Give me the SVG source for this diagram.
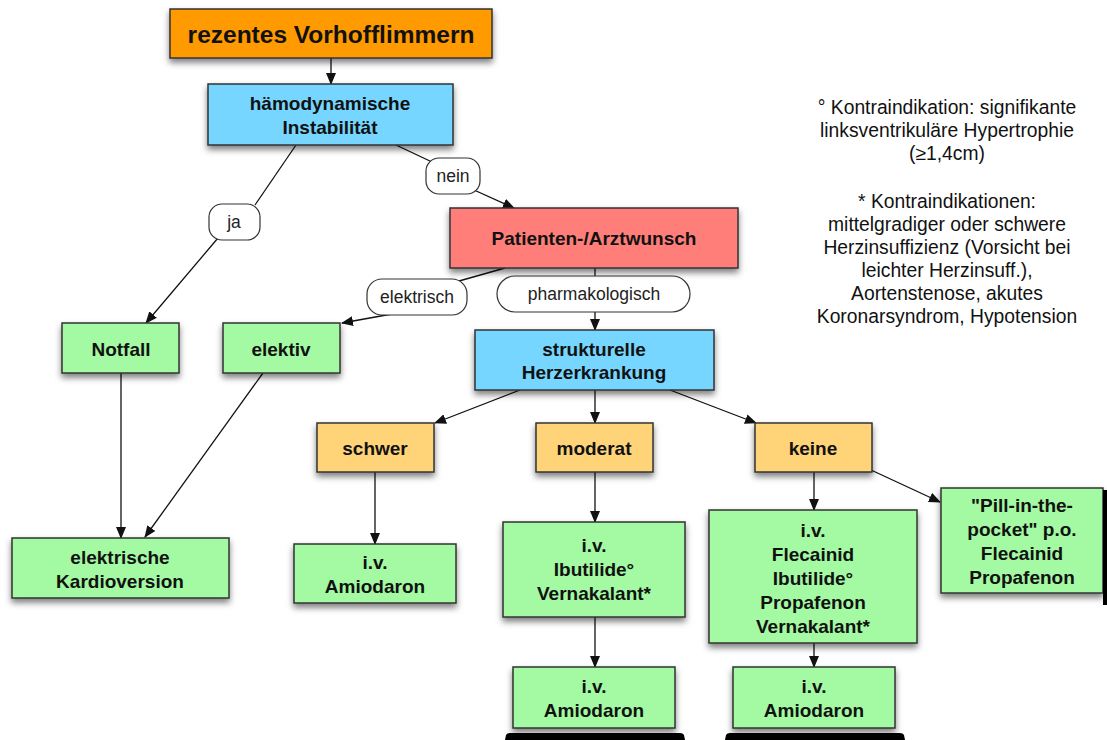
<svg xmlns="http://www.w3.org/2000/svg" width="1107" height="740" viewBox="0 0 1107 740">
<style>
  .box{stroke:#333;stroke-width:1.5;filter:url(#sh)}
  .or{fill:#FF9A00}
  .bl{fill:#76D6FF}
  .rd{fill:#FF7E79}
  .gr{fill:#A3FAA3}
  .ye{fill:#FFD479}
  .t{font-family:"Liberation Sans",Arial,sans-serif;font-weight:bold;font-size:19px;fill:#111;text-anchor:middle}
  .title{font-size:24.5px}
  .lab{fill:#fff;stroke:#333;stroke-width:1.2}
  .lt{font-family:"Liberation Sans",Arial,sans-serif;font-size:17.5px;fill:#222;text-anchor:middle}
  .note{font-family:"Liberation Sans",Arial,sans-serif;font-size:19.3px;fill:#111;text-anchor:middle}
  .c{stroke:#111;stroke-width:1.3;fill:none}
  .ca{stroke:#111;stroke-width:1.3;fill:none;marker-end:url(#ah)}
</style>
<defs>
  <filter id="sh" x="-10%" y="-10%" width="125%" height="150%">
    <feDropShadow dx="0" dy="4" stdDeviation="3" flood-color="#000" flood-opacity="0.5"/>
  </filter>
  <marker id="ah" markerWidth="12" markerHeight="10" refX="11" refY="5" orient="auto" markerUnits="userSpaceOnUse">
    <path d="M0,0 L12,5 L0,10 Z" fill="#111"/>
  </marker>
</defs>
<rect width="1107" height="740" fill="#fff"/>

<g id="connectors">
  <line class="ca" x1="331" y1="58" x2="331" y2="84"/>
  <line class="c" x1="396" y1="145" x2="432" y2="162"/>
  <line class="ca" x1="474" y1="190" x2="514" y2="208"/>
  <line class="c" x1="296" y1="145" x2="255" y2="205"/>
  <line class="ca" x1="218" y1="238" x2="146" y2="323"/>
  <line class="c" x1="505" y1="268" x2="452" y2="283"/>
  <line class="ca" x1="392" y1="314" x2="342" y2="323"/>
  <line class="c" x1="595" y1="268" x2="595" y2="276"/>
  <line class="ca" x1="595" y1="312" x2="595" y2="330"/>
  <line class="ca" x1="121" y1="373" x2="121" y2="538"/>
  <line class="ca" x1="263" y1="373" x2="145" y2="537"/>
  <line class="ca" x1="520" y1="390" x2="435" y2="423"/>
  <line class="ca" x1="595" y1="390" x2="595" y2="423"/>
  <line class="ca" x1="670" y1="390" x2="756" y2="423"/>
  <line class="ca" x1="375" y1="472" x2="375" y2="544"/>
  <line class="ca" x1="595" y1="472" x2="595" y2="522"/>
  <line class="ca" x1="595" y1="617" x2="595" y2="667"/>
  <line class="ca" x1="814" y1="472" x2="814" y2="510"/>
  <line class="ca" x1="871" y1="470" x2="940" y2="502"/>
  <line class="ca" x1="814" y1="643" x2="814" y2="667"/>
</g>

<g id="labels">
  <g id="lab-nein"><rect class="lab" x="426" y="158" width="54" height="36" rx="13"/><text class="lt" x="453" y="182">nein</text></g>
  <g id="lab-ja"><rect class="lab" x="209" y="204" width="51" height="36" rx="13"/><text class="lt" x="234" y="228">ja</text></g>
  <g id="lab-elektrisch"><rect class="lab" x="367" y="279" width="100" height="36" rx="15"/><text class="lt" x="417" y="303">elektrisch</text></g>
  <g id="lab-pharma"><rect class="lab" x="497" y="276" width="193" height="36" rx="18"/><text class="lt" x="594" y="300">pharmakologisch</text></g>
</g>

<g id="n-rezentes"><rect class="box or" x="170" y="9" width="322" height="49"/><text class="t title" x="331" y="43">rezentes Vorhofflimmern</text></g>
<g id="n-haemo"><rect class="box bl" x="208" y="84" width="245" height="61"/><text class="t" x="330" y="110">hämodynamische</text><text class="t" x="330" y="134">Instabilität</text></g>
<g id="n-patienten"><rect class="box rd" x="450" y="208" width="288" height="60"/><text class="t" x="594" y="245">Patienten-/Arztwunsch</text></g>
<g id="n-notfall"><rect class="box gr" x="62" y="323" width="117" height="50"/><text class="t" x="121" y="356">Notfall</text></g>
<g id="n-elektiv"><rect class="box gr" x="223" y="323" width="117" height="50"/><text class="t" x="281" y="356">elektiv</text></g>
<g id="n-strukturelle"><rect class="box bl" x="475" y="330" width="239" height="60"/><text class="t" x="594" y="356">strukturelle</text><text class="t" x="594" y="379">Herzerkrankung</text></g>
<g id="n-schwer"><rect class="box ye" x="317" y="423" width="117" height="49"/><text class="t" x="375" y="455">schwer</text></g>
<g id="n-moderat"><rect class="box ye" x="536" y="423" width="117" height="49"/><text class="t" x="594" y="455">moderat</text></g>
<g id="n-keine"><rect class="box ye" x="755" y="423" width="117" height="49"/><text class="t" x="813" y="455">keine</text></g>
<g id="n-kardioversion"><rect class="box gr" x="12" y="538" width="217" height="60"/><text class="t" x="120" y="564">elektrische</text><text class="t" x="120" y="588">Kardioversion</text></g>
<g id="n-amio1"><rect class="box gr" x="294" y="544" width="162" height="59"/><text class="t" x="375" y="569">i.v.</text><text class="t" x="375" y="593">Amiodaron</text></g>
<g id="n-ibutilide"><rect class="box gr" x="503" y="522" width="182" height="95"/><text class="t" x="594" y="552">i.v.</text><text class="t" x="594" y="576">Ibutilide°</text><text class="t" x="594" y="600">Vernakalant*</text></g>
<g id="n-flecainid"><rect class="box gr" x="709" y="510" width="208" height="133"/><text class="t" x="813" y="537">i.v.</text><text class="t" x="813" y="561">Flecainid</text><text class="t" x="813" y="585">Ibutilide°</text><text class="t" x="813" y="609">Propafenon</text><text class="t" x="813" y="633">Vernakalant*</text></g>
<g id="n-pill"><rect class="box gr" x="941" y="488" width="162" height="105"/><text class="t" x="1022" y="512">"Pill-in-the-</text><text class="t" x="1022" y="536">pocket" p.o.</text><text class="t" x="1022" y="560">Flecainid</text><text class="t" x="1022" y="584">Propafenon</text></g>
<g id="n-amio2"><rect class="box gr" x="513" y="667" width="162" height="61"/><text class="t" x="594" y="693">i.v.</text><text class="t" x="594" y="717">Amiodaron</text></g>
<g id="n-amio3"><rect class="box gr" x="733" y="667" width="162" height="61"/><text class="t" x="814" y="693">i.v.</text><text class="t" x="814" y="717">Amiodaron</text></g>

<g id="artifacts">
  <path d="M505,740 L506,735 Q507,733 510,733 L680,733 Q683,733 684,735 L685,740 Z" fill="#000"/>
  <path d="M725,740 L726,735 Q727,733 730,733 L900,733 Q903,733 904,735 L905,740 Z" fill="#000"/>
  <rect x="1103" y="490" width="4" height="115" fill="#000"/>
</g>

<g id="notes">
  <text class="note" x="947" y="114">° Kontraindikation: signifikante</text>
  <text class="note" x="947" y="137">linksventrikuläre Hypertrophie</text>
  <text class="note" x="947" y="160">(≥1,4cm)</text>
  <text class="note" x="947" y="208">* Kontraindikationen:</text>
  <text class="note" x="947" y="231">mittelgradiger oder schwere</text>
  <text class="note" x="947" y="254">Herzinsuffizienz (Vorsicht bei</text>
  <text class="note" x="947" y="277">leichter Herzinsuff.),</text>
  <text class="note" x="947" y="300">Aortenstenose, akutes</text>
  <text class="note" x="947" y="323">Koronarsyndrom, Hypotension</text>
</g>
</svg>
